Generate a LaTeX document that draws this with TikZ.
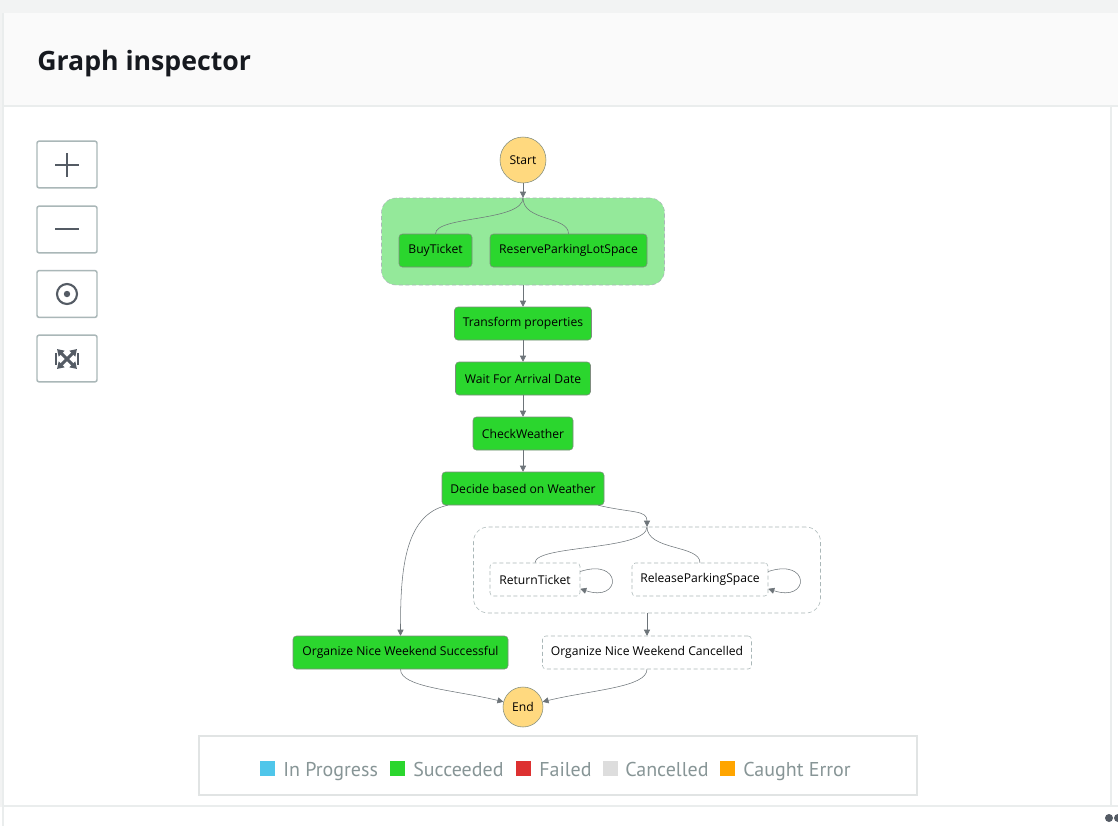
\documentclass[tikz,border=0pt]{standalone}
\usepackage{fontspec}
\setmainfont{Open Sans}
\newfontfamily\legendfont{PT Sans}
\usetikzlibrary{arrows.meta}

\definecolor{pagegray}{HTML}{F2F3F3}
\definecolor{headgray}{HTML}{FAFAFA}
\definecolor{rulegray}{HTML}{EAEDED}
\definecolor{titleink}{HTML}{16191F}
\definecolor{btngray}{HTML}{AAB7B8}
\definecolor{iconink}{HTML}{545B64}
\definecolor{okgreen}{HTML}{2BD62E}
\definecolor{pargreen}{HTML}{94E99A}
\definecolor{startyellow}{HTML}{FFD97F}
\definecolor{boxedge}{HTML}{7F8C7F}
\definecolor{dashgray}{HTML}{AAB7B8}
\definecolor{linegray}{HTML}{6D7479}
\definecolor{legendgray}{HTML}{879596}
\definecolor{legendedge}{HTML}{E1E4E4}
\definecolor{progblue}{HTML}{4FC6EA}
\definecolor{failred}{HTML}{DD3131}
\definecolor{cancelgray}{HTML}{DDDDDD}
\definecolor{caughtorange}{HTML}{FFA500}

\begin{document}
\begin{tikzpicture}[x=0.75pt,y=-0.75pt,
  state/.style={draw=boxedge, fill=okgreen, rounded corners=2.5pt, inner sep=0pt,
    minimum height=24.75pt, font=\fontsize{9.1}{11}\selectfont},
  skipped/.style={state, draw=dashgray, fill=white, dash pattern=on 3pt off 2pt},
  endpoint/.style={draw=boxedge, fill=startyellow, circle, inner sep=0pt,
    font=\fontsize{9.1}{11}\selectfont},
  branch/.style={rounded corners=11pt, draw=dashgray, dash pattern=on 3pt off 2pt, inner sep=0pt},
  flow/.style={draw=linegray, -{Triangle[length=4.5pt,width=4.5pt]}},
  fork/.style={draw=linegray},
  tool/.style={draw=btngray, line width=1.1pt, rounded corners=1.5pt, fill=white,
    minimum width=45pt, minimum height=35pt},
  swatch/.style={minimum size=11.25pt, inner sep=0pt},
  legendtext/.style={text=legendgray, anchor=base west, inner sep=0pt,
    font=\legendfont\fontsize{15}{17}\selectfont}]
\useasboundingbox (0,0) rectangle (1118,826);

% page and panel
\fill[pagegray] (0,0) rectangle (1118,826);
\fill[white] (4,13) rectangle (1118,806);
\fill[headgray] (4,13) rectangle (1118,106);
\draw[rulegray, line width=1.5pt] (4,106) -- (1118,106);
\draw[rulegray, line width=1.5pt] (4,806) -- (1118,806);
\draw[rulegray, line width=1.5pt] (3,13) -- (3,826);
\draw[rulegray, line width=1.5pt] (1111,106) -- (1111,806);
\fill[white] (0,807) rectangle (2,826);
\fill[white] (4,807) rectangle (1118,826);
\node[anchor=base west, inner sep=0pt, text=titleink,
  font=\bfseries\fontsize{20}{24}\selectfont] (title) at (37,70) {Graph inspector};

% zoom buttons
\node[tool] (z1) at (67,164.5) {};
\node[tool] (z2) at (67,229.5) {};
\node[tool] (z3) at (67,294) {};
\node[tool] (z4) at (67,358.5) {};
\draw[iconink, line width=1.6pt] (55,165) -- (79,165) (67,153) -- (67,177);
\draw[iconink, line width=1.6pt] (55,229) -- (79,229);
\draw[iconink, line width=1.6pt] (z3.center) circle[radius=7.5pt];
\fill[iconink] (z3.center) circle[radius=2.4pt];
\draw[iconink, line width=2.2pt, {Triangle[length=5pt,width=6pt]}-{Triangle[length=5pt,width=6pt]}]
  (57,349) -- (77,369);
\draw[iconink, line width=2.2pt, {Triangle[length=5pt,width=6pt]}-{Triangle[length=5pt,width=6pt]}]
  (77,349) -- (57,369);
\draw[iconink, line width=2pt] (56,353) -- (56,365) (78,353) -- (78,365);

% state machine
\node[branch, fill=pargreen, minimum width=212.25pt, minimum height=65.25pt] (2) at (523,241.5) {};
\node[branch, fill=white, minimum width=260.25pt, minimum height=64.5pt] (9) at (647,570) {};

\node[endpoint, minimum size=34.5pt] (1) at (523,160) {Start};
\node[state, minimum width=54.75pt] (3) at (435.5,250.5) {BuyTicket};
\node[state, minimum width=117.75pt] (4) at (568.5,250.5) {ReserveParkingLotSpace};
\node[state, minimum width=102.75pt] (5) at (523,323.5) {Transform properties};
\node[state, minimum width=101.25pt] (6) at (523,378.5) {Wait For Arrival Date};
\node[state, minimum width=75pt] (7) at (523,433.5) {CheckWeather};
\node[state, minimum width=121.5pt] (8) at (523,488.5) {Decide based on Weather};
\node[skipped, minimum width=67.5pt] (10) at (535,579.5) {ReturnTicket};
\node[skipped, minimum width=102pt] (11) at (700,579.5) {ReleaseParkingSpace};
\node[state, minimum width=161.25pt] (12) at (400.5,652.5) {Organize Nice Weekend Successful};
\node[skipped, minimum width=156.75pt] (13) at (647,652.5) {Organize Nice Weekend Cancelled};
\node[endpoint, minimum size=30pt] (14) at (523,707) {End};

\path[flow] (1) -- (2.north);
\path[fork] (2.north) .. controls +(0,24) and +(0,-18) .. (3.north);
\path[fork] (2.north) .. controls +(0,24) and +(0,-18) .. (4.north);
\path[flow] (2.south) -- (5);
\path[flow] (5) -- (6);
\path[flow] (6) -- (7);
\path[flow] (7) -- (8);

\path[flow] ([xshift=4.5pt]8.south west) .. controls +(-45,9) and +(0,-60) .. (12.north);
\path[flow] ([xshift=-4.5pt]8.south east) .. controls +(34,8) and +(0,-17) .. (9.north);
\path[fork] (9.north) .. controls +(0,24) and +(0,-18) .. (10.north);
\path[fork] (9.north) .. controls +(0,24) and +(0,-18) .. (11.north);
\path[flow] ([yshift=6pt]10.east) .. controls +(42,-14) and +(42,14) .. ([yshift=-7pt]10.east);
\path[flow] ([yshift=6pt]11.east) .. controls +(42,-14) and +(42,14) .. ([yshift=-7pt]11.east);
\path[flow] (9.south) -- (13);

\path[flow] (12.south) .. controls +(0,18) and +(-50,-12) .. (14.165);
\path[flow] (13.south) .. controls +(0,18) and +(50,-12) .. (14.15);

% legend
\node[draw=legendedge, line width=1.5pt, minimum width=538.5pt, minimum height=44.25pt] (15) at (558,765.5) {};
\node[swatch, fill=progblue] (l1) at (267.5,768.5) {};
\node[swatch, fill=okgreen] (l2) at (397.5,768.5) {};
\node[swatch, fill=failred] (l3) at (523.5,768.5) {};
\node[swatch, fill=cancelgray] (l4) at (610.5,768.5) {};
\node[swatch, fill=caughtorange] (l5) at (727.5,768.5) {};
\node[legendtext] at (283,776) {In Progress};
\node[legendtext] at (413,776) {Succeeded};
\node[legendtext] at (539,776) {Failed};
\node[legendtext] at (625,776) {Cancelled};
\node[legendtext] at (743,776) {Caught Error};

% scroll dots
\fill[iconink] (1109,818) circle[radius=3pt];
\fill[iconink] (1118,818) circle[radius=3pt];
\end{tikzpicture}
\end{document}
